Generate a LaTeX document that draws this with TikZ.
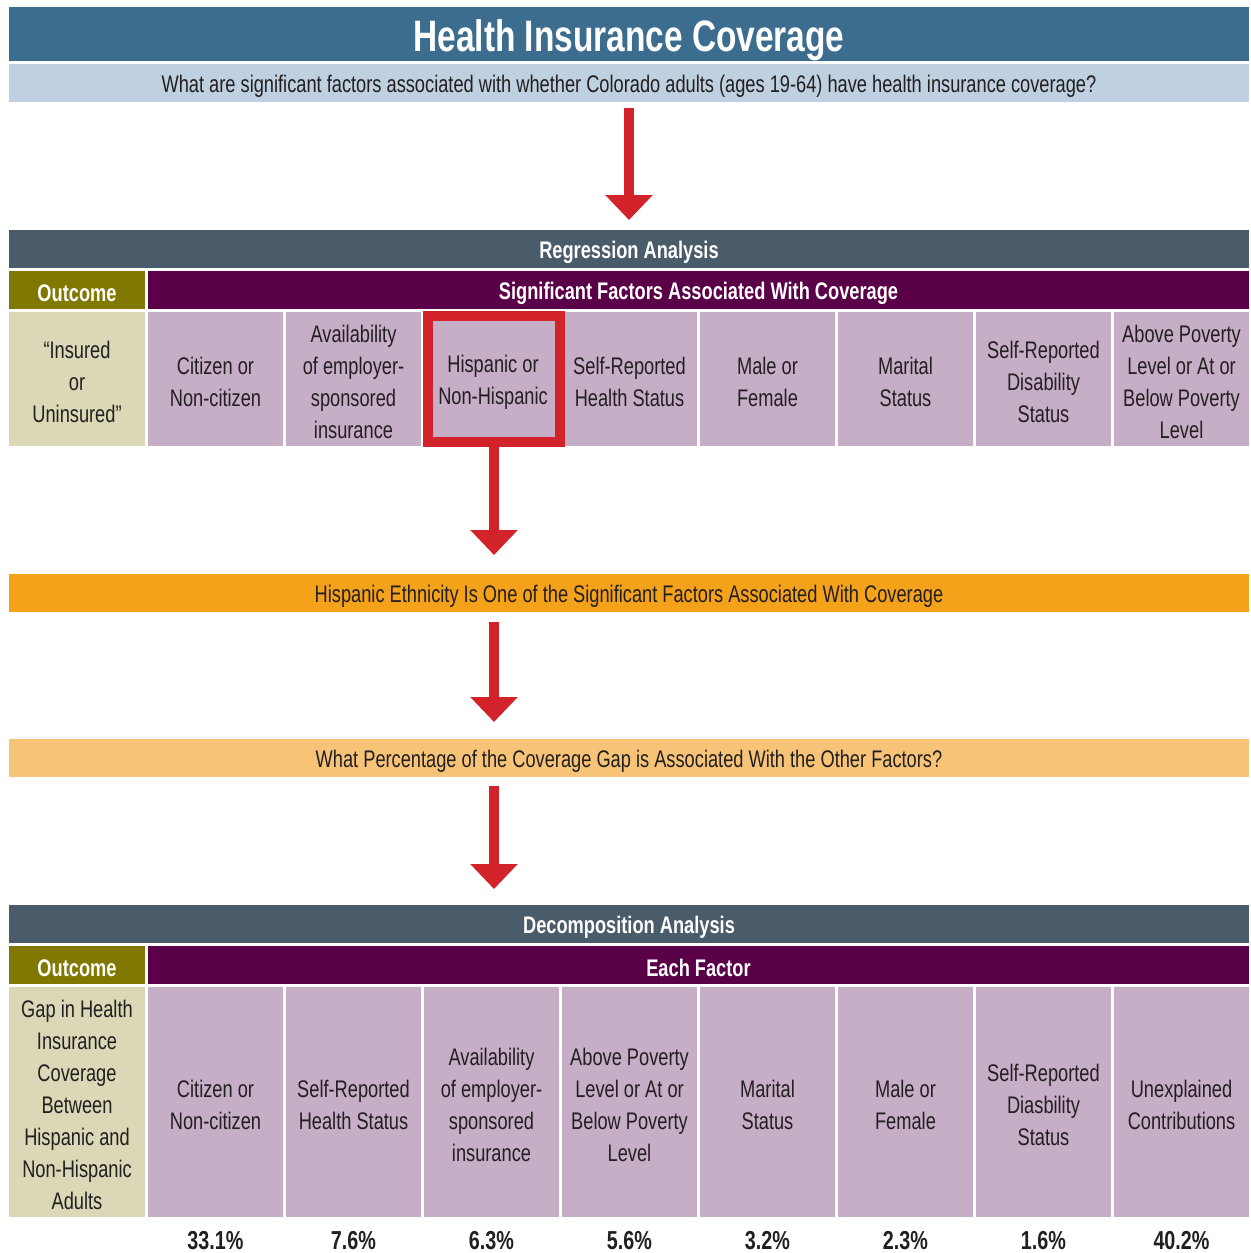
\documentclass[tikz,border=0pt]{standalone}
\usepackage{fontspec}
\setmainfont{Liberation Sans}[FakeStretch=0.76]
\usetikzlibrary{arrows.meta}
\definecolor{titleblue}{HTML}{3C6D8E}
\definecolor{subblue}{HTML}{BFD0E0}
\definecolor{slate}{HTML}{4A5B69}
\definecolor{olive}{HTML}{807800}
\definecolor{plum}{HTML}{5A0048}
\definecolor{beige}{HTML}{DAD8B6}
\definecolor{lav}{HTML}{C6AEC7}
\definecolor{redc}{HTML}{D2232A}
\definecolor{orangec}{HTML}{F5A21B}
\definecolor{lorangec}{HTML}{F7C477}
\definecolor{txt}{HTML}{231F20}
\tikzset{tshift/.store in=\tshiftval, tshift=-1.5pt}
\newcommand{\bx}[7]{%
 \pgfmathsetmacro\bxcx{(#3+#5)/2}\pgfmathsetmacro\bxcy{(#4+#6)/2}%
 \pgfmathsetmacro\bxw{(#5-#3)*0.5}\pgfmathsetmacro\bxh{(#6-#4)*0.5}%
 \node[#2, minimum width=\bxw pt, minimum height=\bxh pt] (#1) at (\bxcx,\bxcy) {};
 \node[tshift=-1.5pt, #2, fill=none, yshift=\tshiftval] (#1t) at (\bxcx,\bxcy) {#7};}
\begin{document}
\begin{tikzpicture}[x=0.5pt,y=-0.5pt,
  base/.style={inner sep=0pt, outer sep=0pt, align=center, text=txt, font=\fontsize{12}{16}\selectfont},
  titlebar/.style={base, fill=titleblue, text=white, font=\bfseries\fontsize{22}{26}\selectfont, tshift=-3pt},
  subbar/.style={base, fill=subblue},
  slatebar/.style={base, fill=slate, text=white, font=\bfseries\fontsize{12}{16}\selectfont},
  olivebar/.style={base, fill=olive, text=white, font=\bfseries\fontsize{12}{16}\selectfont},
  plumbar/.style={base, fill=plum, text=white, font=\bfseries\fontsize{12}{16}\selectfont},
  outcell/.style={base, fill=beige},
  fcell/.style={base, fill=lav},
  orbar/.style={base, fill=orangec},
  lorbar/.style={base, fill=lorangec},
  pct/.style={base, font=\bfseries\fontsize{13}{16}\selectfont},
  redarrow/.style={draw=redc, line width=5pt, -{Triangle[width=23pt,length=12.5pt]}},
  hframe/.style={draw=redc, line width=5pt, inner sep=0pt}
]
\useasboundingbox (0,0) rectangle (1250,1253);
% header
\bx{title}{titlebar}{9}{7}{1249}{61}{Health Insurance Coverage}
\bx{sub}{subbar}{9}{64}{1249}{102}{What are significant factors associated with whether Colorado adults (ages 19-64) have health insurance coverage?}
% regression
\bx{reg}{slatebar}{9}{230}{1249}{268}{Regression Analysis}
\bx{outA}{olivebar}{9}{271}{145}{309}{Outcome}
\bx{sig}{plumbar}{148}{271}{1249}{309}{Significant Factors Associated With Coverage}
\bx{oA}{outcell}{9}{312}{145}{446}{“Insured\\or\\Uninsured”}
\bx{a1}{fcell}{148}{312}{283}{446}{Citizen or\\Non-citizen}
\bx{a2}{fcell}{286}{312}{421}{446}{Availability\\of employer-\\sponsored\\insurance}
\bx{a3}{fcell}{424}{312}{562}{446}{Hispanic or\\Non-Hispanic}
\bx{a4}{fcell}{562}{312}{697}{446}{Self-Reported\\Health Status}
\bx{a5}{fcell}{700}{312}{835}{446}{Male or\\Female}
\bx{a6}{fcell}{838}{312}{973}{446}{Marital\\Status}
\bx{a7}{fcell}{976}{312}{1111}{446}{Self-Reported\\Disability\\Status}
\bx{a8}{fcell}{1114}{312}{1249}{446}{Above Poverty\\Level or At or\\Below Poverty\\Level}
\node[hframe, minimum width=66pt, minimum height=63pt] (hfr) at (494,379) {};
% middle bars
\bx{orange}{orbar}{9}{574}{1249}{612}{Hispanic Ethnicity Is One of the Significant Factors Associated With Coverage}
\bx{lorange}{lorbar}{9}{739}{1249}{777}{What Percentage of the Coverage Gap is Associated With the Other Factors?}
% decomposition
\bx{dec}{slatebar}{9}{905}{1249}{943}{Decomposition Analysis}
\bx{outB}{olivebar}{9}{946}{145}{984}{Outcome}
\bx{each}{plumbar}{148}{946}{1249}{984}{Each Factor}
\bx{oB}{outcell}{9}{987}{145}{1217}{Gap in Health\\Insurance\\Coverage\\Between\\Hispanic and\\Non-Hispanic\\Adults}
\bx{b1}{fcell}{148}{987}{283}{1217}{Citizen or\\Non-citizen}
\bx{b2}{fcell}{286}{987}{421}{1217}{Self-Reported\\Health Status}
\bx{b3}{fcell}{424}{987}{559}{1217}{Availability\\of employer-\\sponsored\\insurance}
\bx{b4}{fcell}{562}{987}{697}{1217}{Above Poverty\\Level or At or\\Below Poverty\\Level}
\bx{b5}{fcell}{700}{987}{835}{1217}{Marital\\Status}
\bx{b6}{fcell}{838}{987}{973}{1217}{Male or\\Female}
\bx{b7}{fcell}{976}{987}{1111}{1217}{Self-Reported\\Diasbility\\Status}
\bx{b8}{fcell}{1114}{987}{1249}{1217}{Unexplained\\Contributions}
% percentages
\node[pct] (p1) at (215.5,1241) {33.1\%};
\node[pct] (p2) at (353.5,1241) {7.6\%};
\node[pct] (p3) at (491.5,1241) {6.3\%};
\node[pct] (p4) at (629.5,1241) {5.6\%};
\node[pct] (p5) at (767.5,1241) {3.2\%};
\node[pct] (p6) at (905.5,1241) {2.3\%};
\node[pct] (p7) at (1043.5,1241) {1.6\%};
\node[pct] (p8) at (1181.5,1241) {40.2\%};
% arrows
\draw[redarrow, shorten <=3pt, shorten >=5pt] (sub.south) -- (reg.north);
\draw[redarrow, shorten >=9.5pt] (hfr.south) -- (hfr.south |- orange.north);
\draw[redarrow, shorten <=5pt, shorten >=8.5pt] (hfr.south |- orange.south) -- (hfr.south |- lorange.north);
\draw[redarrow, shorten <=4.5pt, shorten >=8pt] (hfr.south |- lorange.south) -- (hfr.south |- dec.north);
\end{tikzpicture}
\end{document}
